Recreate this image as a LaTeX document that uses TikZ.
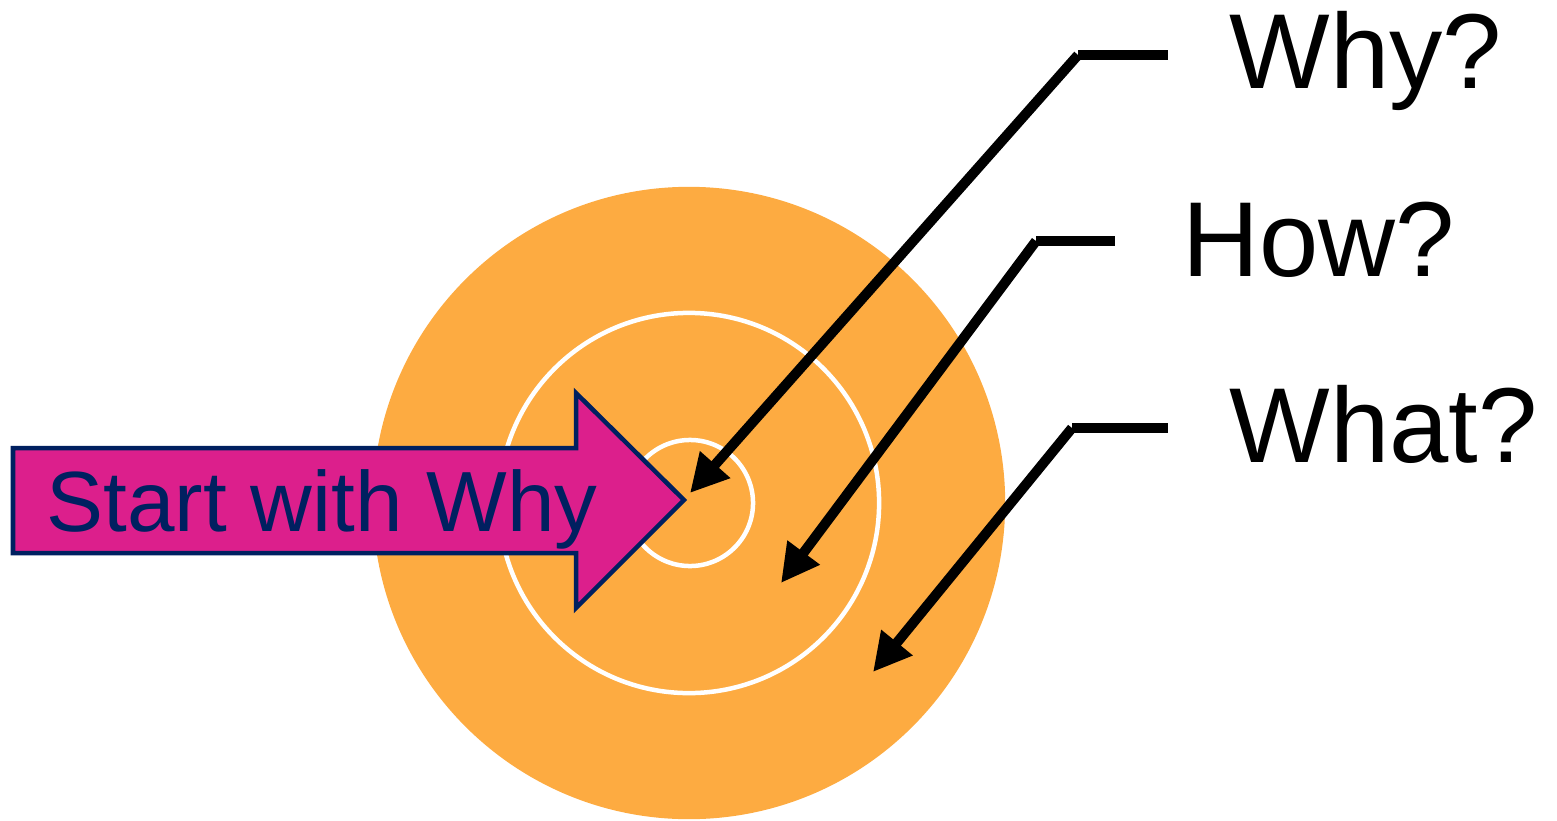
\documentclass[tikz,border=0pt]{standalone}
\usepackage{fontspec}
\setmainfont{Liberation Sans}
\usetikzlibrary{arrows.meta}
\definecolor{ringorange}{RGB}{253,171,65}
\definecolor{whymagenta}{RGB}{220,31,140}
\definecolor{whynavy}{RGB}{0,32,96}

\begin{document}
\begin{tikzpicture}[x=0.01cm, y=-0.01cm,
  leader/.style={line width=0.1cm},
  pointer/.style={leader, -{Triangle[length=0.38cm, width=0.38cm]}},
  ring/.style={draw=white, line width=0.045cm},
  question/.style={anchor=base west, inner sep=0pt, font=\fontsize{30.3}{36}\selectfont}]

  \useasboundingbox (0,0) rectangle (1557,821);

  % --- 1. THE TARGET ---
  \fill[ringorange] (689,503) circle (3.16cm);
  \draw[ring] (689,503) circle (1.90cm);
  \draw[ring] (690,503) circle (0.63cm);

  % --- 2. THE BLOCK ARROW ---
  \draw[whynavy, fill=whymagenta, line width=0.045cm, line join=miter]
    (13,448) -- (576,448) -- (576,393) -- (684,500)
    -- (576,608) -- (576,553) -- (13,553) -- cycle;
  \node[text=whynavy, anchor=base west, inner sep=0pt,
        font=\fontsize{24.3}{28}\selectfont] (start) at (46,531) {Start with Why};

  % --- 3. THE QUESTIONS ---
  \node[question] (why)  at (1229,88)  {Why?};
  \node[question] (how)  at (1182,276) {How?};
  \node[question] (what) at (1229,462) {What?};

  % leaders: a short stub, then a long pointer into the target
  \foreach \q/\bx/\by/\sx/\tx/\ty in {why/1078/55/1168/690/493,
                                       how/1036/241/1115/781/583,
                                       what/1072/428/1168/873/672} {
    \coordinate (\q-bend) at (\bx,\by);
    \coordinate (\q-stub) at (\sx,\by);
    \coordinate (\q-tip)  at (\tx,\ty);
    \draw[leader]  (\q-bend) -- (\q-stub);
    \draw[pointer] (\q-bend) -- (\q-tip);
  }

\end{tikzpicture}
\end{document}
